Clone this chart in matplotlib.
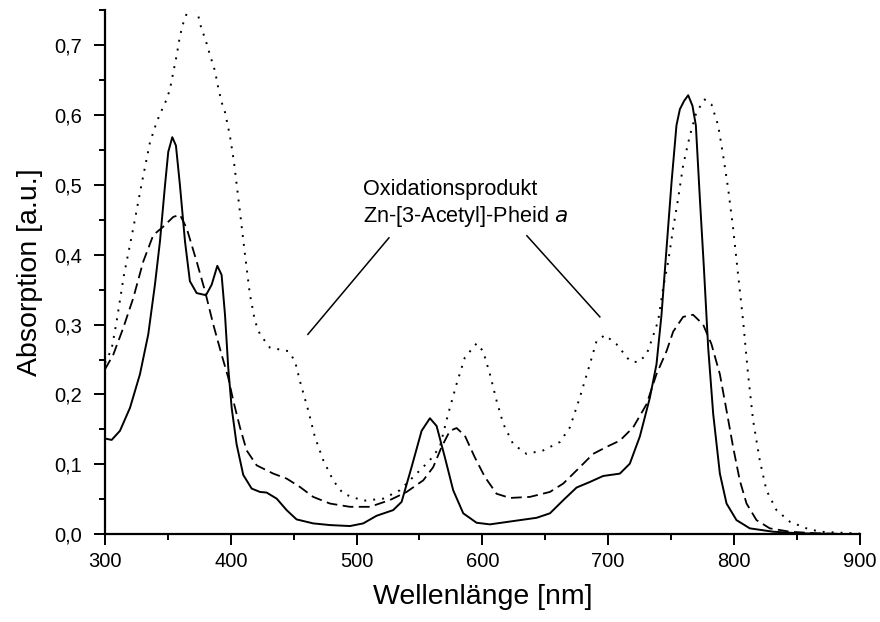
import matplotlib
matplotlib.use("Agg")
import matplotlib.pyplot as plt
from matplotlib.ticker import MultipleLocator, FuncFormatter

plt.rcParams['font.family'] = ['Liberation Sans', 'DejaVu Sans']

# Spectrum 1 (solid)
wl_solid = [300, 305.3, 311.9, 319.9, 327.8, 334.4, 339.7, 343.7, 347.7, 350.3, 353.5,
            356.4, 359.6, 363.6, 367.5, 372.9, 380.3, 384.8, 389.3, 392.7, 395.4, 398,
            400.7, 404.6, 409.9, 416.6, 423.2, 428.5, 436.5, 444.4, 452.3, 465.5, 478.8,
            494.7, 505.3, 515.9, 529.1, 535.8, 543.7, 551.7, 558.3, 563.6, 570.2, 576.8,
            584.8, 595.4, 606, 624.5, 643.1, 653.7, 664.3, 674.9, 685.4, 696, 709.3,
            717.2, 725.2, 733.1, 738.4, 742.4, 746.4, 750.4, 754.3, 757, 760.4, 763.6,
            767, 769.7, 772.9, 776.1, 779.5, 783.5, 788.8, 794.1, 802, 812.6, 831.1,
            852.3, 900]
abs_solid = [0.137, 0.135, 0.148, 0.181, 0.229, 0.286, 0.357, 0.419, 0.499, 0.547, 0.568,
             0.556, 0.499, 0.419, 0.362, 0.345, 0.342, 0.357, 0.384, 0.371, 0.314, 0.238,
             0.181, 0.129, 0.085, 0.0654, 0.0606, 0.0597, 0.051, 0.0346, 0.0213, 0.0156,
             0.0132, 0.0118, 0.0156, 0.0265, 0.0346, 0.0464, 0.096, 0.148, 0.166, 0.155,
             0.110, 0.063, 0.030, 0.0165, 0.0142, 0.0189, 0.0236, 0.030, 0.0488, 0.0669,
             0.0748, 0.0834, 0.0868, 0.101, 0.140, 0.195, 0.243, 0.314, 0.409, 0.504,
             0.585, 0.608, 0.620, 0.628, 0.613, 0.585, 0.480, 0.381, 0.267, 0.172, 0.0868,
             0.044, 0.0203, 0.0085, 0.0037, 0.0014, 0.0]

# Spectrum 2 (dashed)
wl_dash = [300, 306.6, 314.5, 322.5, 330.4, 338.4, 346.3, 354.3, 359.6, 364.9, 372.9,
           379.5, 386.1, 392.7, 398, 402, 407.3, 412.6, 420.6, 433.8, 444.4, 455, 465.5,
           478.8, 494.7, 510.6, 526.5, 539.8, 553, 560.9, 567.6, 574.2, 579.5, 586.1, 594,
           602, 611.3, 621.9, 637.8, 653.7, 664.3, 677.5, 688, 698.7, 709.3, 719.9, 730.5,
           738.4, 746.4, 751.7, 759.6, 767.5, 775.5, 782.1, 788.8, 794.1, 799.3, 804.6,
           810, 817.9, 828.5, 844.4, 865.6, 900]
abs_dash = [0.236, 0.257, 0.295, 0.338, 0.390, 0.428, 0.440, 0.454, 0.457, 0.438, 0.390,
            0.348, 0.300, 0.257, 0.224, 0.191, 0.153, 0.120, 0.0986, 0.0868, 0.0797, 0.0677,
            0.0535, 0.044, 0.0393, 0.0393, 0.049, 0.0606, 0.0772, 0.096, 0.125, 0.148,
            0.152, 0.141, 0.110, 0.082, 0.058, 0.052, 0.0535, 0.0606, 0.0726, 0.096, 0.115,
            0.125, 0.134, 0.153, 0.186, 0.229, 0.262, 0.290, 0.311, 0.314, 0.300, 0.272,
            0.229, 0.177, 0.125, 0.0772, 0.044, 0.0203, 0.0085, 0.0037, 0.0014, 0.0]

# Spectrum 3 (dotted), Oxidationsprodukt
wl_dot = [300, 305.3, 309.3, 315, 322.5, 329, 335.8, 341, 343.7, 349, 351.7, 354.3, 357,
          359.6, 362.2, 364.4, 369, 373.6, 376.8, 379.5, 383.4, 387.4, 390, 392.7, 395.4,
          399.3, 402.5, 407.3, 411.3, 415.2, 419.2, 423.2, 431.1, 445.7, 451, 455, 461.6,
          466.9, 473.5, 481.4, 489.4, 505.3, 521.2, 534.4, 547.7, 558.3, 566.2, 572.8,
          579.5, 586.1, 595.4, 600.6, 606, 611.3, 616.6, 624.5, 635.1, 648.4, 661.6,
          669.6, 677.5, 685.4, 690.7, 697.4, 706.6, 717.2, 723.8, 730.5, 735, 739.7, 743.7,
          747.7, 751.7, 755.6, 759.6, 764.9, 770.2, 776.8, 782.1, 787.4, 791.4, 795.4,
          799.3, 803.3, 807.3, 811.2, 815.2, 820.5, 825.8, 833.8, 844.4, 857.7, 868.3,
          900]
abs_dot = [0.245, 0.265, 0.305, 0.37, 0.438, 0.50, 0.561, 0.589, 0.601, 0.622, 0.637,
           0.661, 0.685, 0.713, 0.731, 0.742, 0.765, 0.746, 0.722, 0.710, 0.686, 0.663,
           0.639, 0.618, 0.604, 0.570, 0.533, 0.461, 0.40, 0.343, 0.305, 0.286, 0.267,
           0.262, 0.248, 0.219, 0.177, 0.139, 0.106, 0.077, 0.058, 0.048, 0.051, 0.063,
           0.0868, 0.106, 0.125, 0.172, 0.215, 0.253, 0.273, 0.262, 0.229, 0.191, 0.158,
           0.129, 0.115, 0.120, 0.132, 0.153, 0.196, 0.243, 0.276, 0.285, 0.272, 0.248,
           0.246, 0.257, 0.28, 0.305, 0.352, 0.390, 0.438, 0.480, 0.528, 0.570, 0.604,
           0.622, 0.615, 0.585, 0.542, 0.494, 0.438, 0.371, 0.305, 0.229, 0.163, 0.106,
           0.063, 0.0346, 0.018, 0.0085, 0.0037, 0.001]

x_ticks = [300, 400, 500, 600, 700, 800, 900]
y_ticks = [0.0, 0.1, 0.2, 0.3, 0.4, 0.5, 0.6, 0.7]

fig = plt.figure(figsize=(8.8, 6.22), dpi=100)
ax = fig.add_axes([0.1193, 0.141, 0.8577, 0.843])

ax.plot(wl_solid, abs_solid, color='black', lw=1.4, ls='-', solid_joinstyle='round')
ax.plot(wl_dash, abs_dash, color='black', lw=1.3, ls=(0, (6, 3)))
ax.plot(wl_dot, abs_dot, color='black', lw=1.4, ls=(0, (1, 3.6)))

ax.set_xlim(300, 900)
ax.set_ylim(0, 0.75)
ax.set_xticks(x_ticks)
ax.set_yticks(y_ticks)
ax.xaxis.set_minor_locator(MultipleLocator(50))
ax.yaxis.set_minor_locator(MultipleLocator(0.05))
ax.yaxis.set_major_formatter(FuncFormatter(lambda v, p: f"{v:.1f}".replace('.', ',')))

for side in ('top', 'right'):
    ax.spines[side].set_visible(False)
for side in ('left', 'bottom'):
    ax.spines[side].set_linewidth(1.6)

ax.tick_params(which='major', direction='out', length=8, width=1.4, labelsize=14.5)
ax.tick_params(which='minor', direction='out', length=4.5, width=1.4)
ax.tick_params(axis='x', which='major', pad=5)
ax.tick_params(axis='y', which='major', pad=8.5)

ax.set_xlabel('Wellenlänge [nm]', fontsize=20.5, labelpad=9)
ax.set_ylabel('Absorption [a.u.]', fontsize=20.5, labelpad=8)

# label pointing at the two new bands of the oxidation product
ax.text(505, 0.486, 'Oxidationsprodukt', fontsize=15.6, ha='left', va='baseline')
ax.text(505, 0.446, 'Zn-[3-Acetyl]-Pheid $\\it{a}$', fontsize=15.6, ha='left', va='baseline')
ax.plot([525.7, 461.3], [0.424, 0.286], color='black', lw=1.1)
ax.plot([635.4, 693.4], [0.427, 0.311], color='black', lw=1.1)

fig.savefig('out.png', dpi=100)
